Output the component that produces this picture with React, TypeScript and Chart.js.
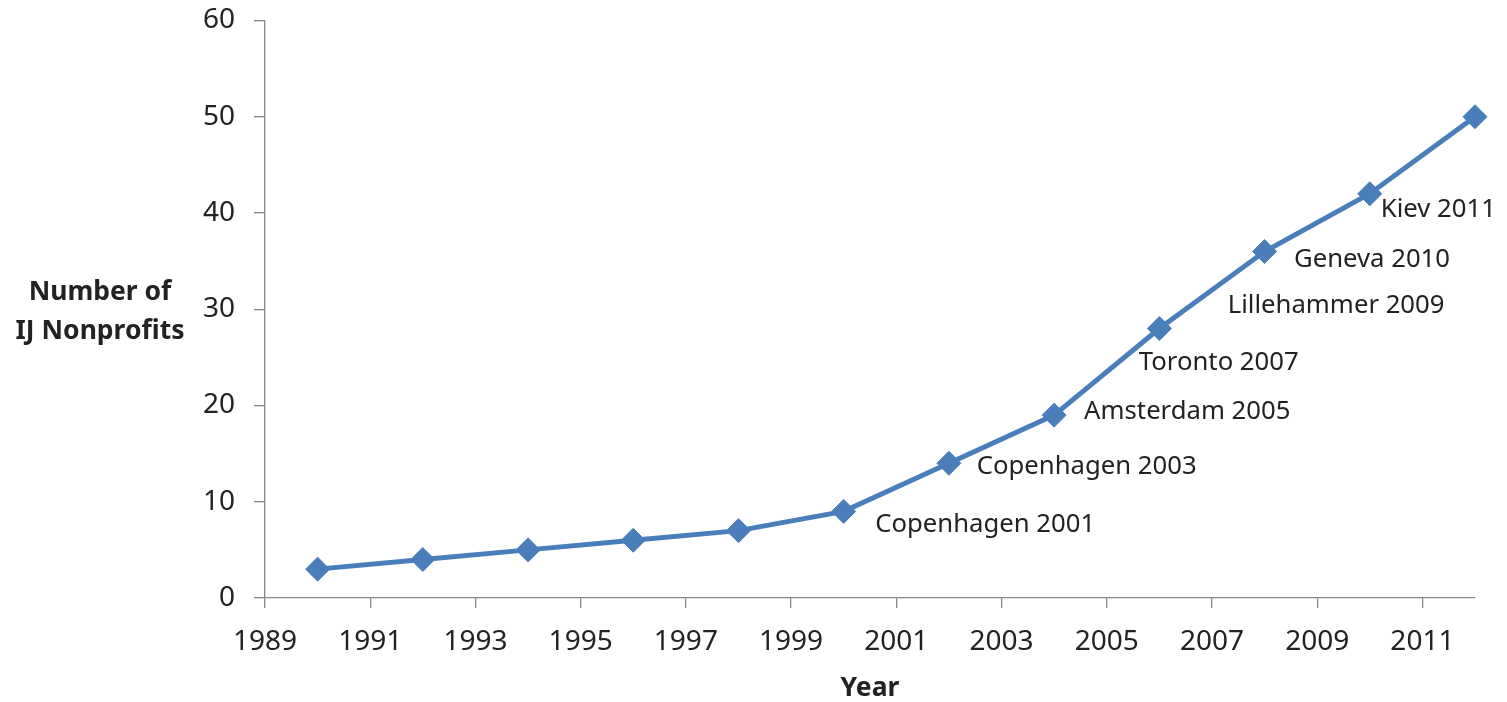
import React, { useEffect, useRef } from "react";
import { Chart, registerables } from "chart.js";

Chart.register(...registerables);

const years = [1990, 1992, 1994, 1996, 1998, 2000, 2002, 2004, 2006, 2008, 2010, 2012];
const nonprofits = [3, 4, 5, 6, 7, 9, 14, 19, 28, 36, 42, 50];
const xTickYears = [1989, 1991, 1993, 1995, 1997, 1999, 2001, 2003, 2005, 2007, 2009, 2011];

const eventLabels = [
  "Copenhagen 2001",
  "Copenhagen 2003",
  "Amsterdam 2005",
  "Toronto 2007",
  "Lillehammer 2009",
  "Geneva 2010",
  "Kiev 2011",
];
const eventLabelYears = [2000.6, 2002.53, 2004.57, 2005.61, 2007.3, 2008.56, 2010.21];
const eventLabelValues = [6.89, 12.85, 18.57, 23.69, 29.58, 34.42, 39.62];

const yTitleLines = ["Number of", "IJ Nonprofits"];
const xTitle = "Year";

const FONT = '"Noto Sans", "Open Sans", sans-serif';
const TEXT = "#222222";
const AXIS = "#888888";
const BLUE = "#4a7ebb";

const annotationPlugin = {
  id: "annotations",
  afterDatasetsDraw(chart: any) {
    const { ctx, chartArea } = chart;
    const xs = chart.scales.x;
    const ys = chart.scales.y;
    ctx.save();
    ctx.fillStyle = TEXT;
    ctx.textBaseline = "alphabetic";
    ctx.textAlign = "left";
    ctx.font = `25.7px ${FONT}`;
    eventLabels.forEach((t, i) => {
      ctx.fillText(t, xs.getPixelForValue(eventLabelYears[i]), ys.getPixelForValue(eventLabelValues[i]));
    });
    ctx.font = `bold 26.5px ${FONT}`;
    ctx.textAlign = "center";
    ctx.fillText(yTitleLines[0], chartArea.left - 165, 299.5);
    ctx.fillText(yTitleLines[1], chartArea.left - 165, 338.5);
    ctx.fillText(xTitle, (chartArea.left + chartArea.right) / 2, chartArea.bottom + 97.5);
    ctx.restore();
  },
};

export default function App() {
  const canvasRef = useRef<HTMLCanvasElement | null>(null);

  useEffect(() => {
    if (!canvasRef.current) return;
    const chart = new Chart(canvasRef.current, {
      type: "line",
      data: {
        datasets: [
          {
            data: years.map((yr, i) => ({ x: yr, y: nonprofits[i] })),
            borderColor: BLUE,
            backgroundColor: BLUE,
            borderWidth: 5,
            tension: 0,
            pointStyle: "rectRot",
            pointRadius: 12,
            pointHoverRadius: 12,
            pointBackgroundColor: BLUE,
            pointBorderColor: BLUE,
            pointBorderWidth: 1,
            clip: false as any,
          },
        ],
      },
      options: {
        responsive: false,
        animation: false,
        devicePixelRatio: 1,
        layout: { padding: { top: 20.5, right: 32, left: 0, bottom: 0 } },
        plugins: {
          legend: { display: false },
          tooltip: { enabled: false },
          title: { display: false },
        },
        scales: {
          x: {
            type: "linear",
            min: 1989,
            max: 2012,
            afterBuildTicks: (scale: any) => {
              scale.ticks = xTickYears.map((v) => ({ value: v }));
            },
            afterFit: (scale: any) => {
              scale.height = 104;
              scale.paddingLeft = 0;
              scale.paddingRight = 0;
            },
            grid: {
              drawOnChartArea: false,
              drawTicks: true,
              tickLength: 10,
              color: AXIS,
              lineWidth: 1.3,
            },
            border: { display: true, color: AXIS, width: 1.3 },
            ticks: {
              autoSkip: false,
              maxRotation: 0,
              padding: 17,
              color: TEXT,
              font: { family: FONT, size: 28 },
              callback: (v: any) => String(v),
            },
          },
          y: {
            type: "linear",
            min: 0,
            max: 60,
            afterFit: (scale: any) => {
              scale.width = 265;
              scale.paddingTop = 0;
              scale.paddingBottom = 0;
            },
            grid: {
              drawOnChartArea: false,
              drawTicks: true,
              tickLength: 11,
              color: AXIS,
              lineWidth: 1.3,
            },
            border: { display: true, color: AXIS, width: 1.3 },
            ticks: {
              stepSize: 10,
              padding: 19,
              color: TEXT,
              font: { family: FONT, size: 28 },
            },
          },
        },
      },
      plugins: [annotationPlugin],
    });
    return () => chart.destroy();
  }, []);

  return (
    <div style={{ position: "fixed", left: 0, top: 0, width: 1507, height: 702, background: "#ffffff" }}>
      <canvas ref={canvasRef} width={1507} height={702} style={{ display: "block" }} />
    </div>
  );
}
